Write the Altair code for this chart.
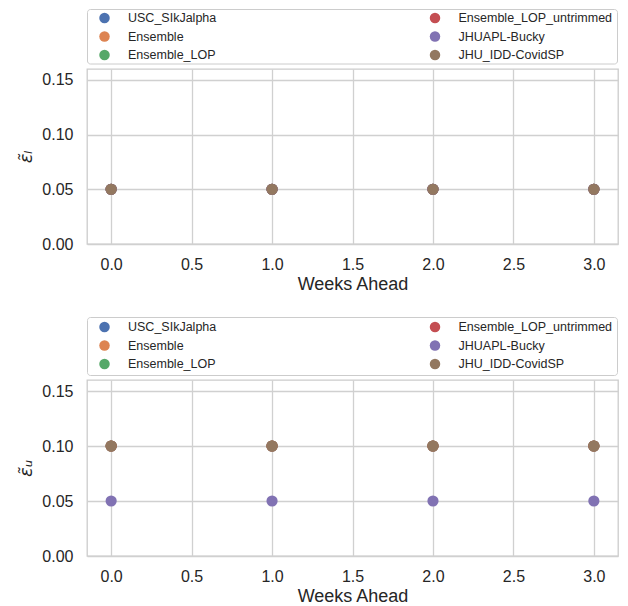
import altair as alt
import pandas as pd

# ---------------- data ----------------
weeks = [0, 1, 2, 3]
models = ["USC_SIkJalpha", "Ensemble", "Ensemble_LOP",
          "Ensemble_LOP_untrimmed", "JHUAPL-Bucky", "JHU_IDD-CovidSP"]
colors = ["#4C72B0", "#DD8452", "#55A868", "#C44E52", "#8172B3", "#937860"]

eps_l = {
    "USC_SIkJalpha":          [0.05, 0.05, 0.05, 0.05],
    "Ensemble":               [0.05, 0.05, 0.05, 0.05],
    "Ensemble_LOP":           [0.05, 0.05, 0.05, 0.05],
    "Ensemble_LOP_untrimmed": [0.05, 0.05, 0.05, 0.05],
    "JHUAPL-Bucky":           [0.05, 0.05, 0.05, 0.05],
    "JHU_IDD-CovidSP":        [0.05, 0.05, 0.05, 0.05],
}
eps_u = {
    "USC_SIkJalpha":          [0.10, 0.10, 0.10, 0.10],
    "Ensemble":               [0.10, 0.10, 0.10, 0.10],
    "Ensemble_LOP":           [0.10, 0.10, 0.10, 0.10],
    "Ensemble_LOP_untrimmed": [0.10, 0.10, 0.10, 0.10],
    "JHUAPL-Bucky":           [0.05, 0.05, 0.05, 0.05],
    "JHU_IDD-CovidSP":        [0.10, 0.10, 0.10, 0.10],
}
x_ticks = [0.0, 0.5, 1.0, 1.5, 2.0, 2.5, 3.0]
y_ticks = [0.00, 0.05, 0.10, 0.15]


def long_df(d):
    rows = []
    for m in models:
        for w, v in zip(weeks, d[m]):
            rows.append({"model": m, "week": w, "value": v})
    return pd.DataFrame(rows)


df_l = long_df(eps_l)
df_u = long_df(eps_u)
leg_df = pd.DataFrame({"model": models,
                       "col": [i // 3 for i in range(len(models))],
                       "row": [i % 3 for i in range(len(models))]})

color_scale = alt.Scale(domain=models, range=colors)
W = 531
FONT = "Liberation Sans"
TXT = "#262626"


def legend_panel(height, frame_top, frame_bottom, row_top):
    frame = alt.Chart(pd.DataFrame({"a": [0]})).mark_rect(
        fill="white", stroke="#cccccc", strokeWidth=1, cornerRadius=3
    ).encode(x=alt.value(0.5), x2=alt.value(W - 0.5),
             y=alt.value(frame_top), y2=alt.value(frame_bottom))
    xs = alt.Scale(domain=[0, 1], range=[17.5, 348])
    ys = alt.Scale(domain=[0, 2], range=[row_top, row_top + 37])
    base = alt.Chart(leg_df)
    pts = base.mark_circle(size=110, opacity=1).encode(
        x=alt.X("col:Q", scale=xs, axis=None),
        y=alt.Y("row:Q", scale=ys, axis=None),
        color=alt.Color("model:N", scale=color_scale, legend=None),
    )
    txt = base.mark_text(align="left", baseline="middle", dx=23.5,
                         fontSize=12.5, font=FONT, color=TXT).encode(
        x=alt.X("col:Q", scale=xs, axis=None),
        y=alt.Y("row:Q", scale=ys, axis=None),
        text="model:N",
    )
    return alt.layer(frame, pts, txt).properties(
        width=W, height=height, view=alt.ViewBackground(stroke="transparent"))


def plot_panel(df, ytitle, height):
    return alt.Chart(df).mark_circle(size=125, opacity=1).encode(
        x=alt.X("week:Q",
                scale=alt.Scale(domain=[-0.15, 3.15], nice=False, zero=False),
                axis=alt.Axis(values=x_ticks, format=".1f", title="Weeks Ahead",
                              labelPadding=12, titlePadding=3)),
        y=alt.Y("value:Q",
                scale=alt.Scale(domain=[0, 0.16], nice=False),
                axis=alt.Axis(values=y_ticks, format=".2f", title=ytitle,
                              labelPadding=14, titlePadding=6,
                              titleFont="DejaVu Sans", titleFontStyle="italic",
                              titleFontSize=18)),
        color=alt.Color("model:N", scale=color_scale, legend=None),
    ).properties(width=W, height=height)


chart = alt.vconcat(
    legend_panel(59.5, 0.5, 55, 9),
    plot_panel(df_l, "\u03b5\u0303\u2097", 175),
    legend_panel(135.5, 73.5, 131.5, 83),
    plot_panel(df_u, "\u03b5\u0303\u1d64", 176),
    spacing=0,
    bounds="flush",
).properties(
    padding={"left": 9, "top": 0, "right": 0, "bottom": 0}
).configure_axis(
    labelFont=FONT, labelFontSize=16, labelColor=TXT,
    titleFont=FONT, titleFontSize=18, titleColor=TXT, titleFontWeight="normal",
    grid=True, gridColor="#d0d0d0", gridWidth=1.3,
    domain=False, ticks=False, tickSize=0,
).configure_view(stroke="#cccccc", strokeWidth=1.3)

chart.save("out.html", embed_options={"renderer": "svg", "actions": False})
